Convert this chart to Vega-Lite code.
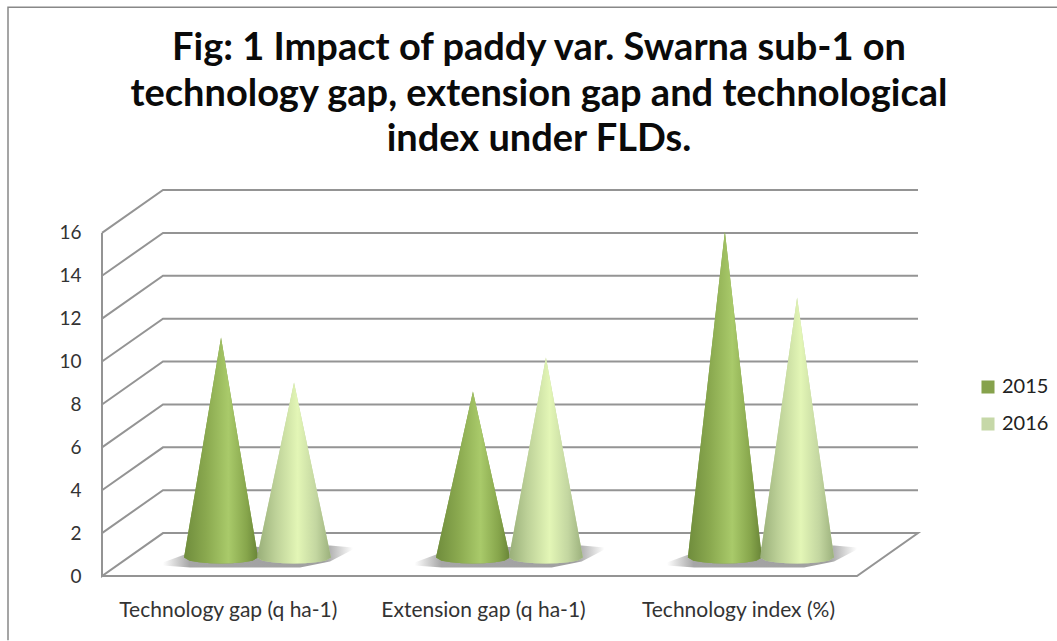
{"$schema":"https://vega.github.io/schema/vega-lite/v6.json","width":816,"height":386,"autosize":{"type":"none"},"padding":{"left":102,"top":190,"right":139,"bottom":65},"background":"white","config":{"view":{"stroke":null}},"title":{"text":["Fig: 1 Impact of paddy var. Swarna sub-1 on","technology gap, extension gap and technological","index under FLDs."],"font":"Lato","fontWeight":"bold","fontSize":38,"lineHeight":45.5,"color":"#0a0a0a","anchor":"middle","dx":29,"limit":1000,"offset":-155},"datasets":{"grid":[{"k":16,"o":1,"x":0,"y":16},{"k":16,"o":2,"x":0.2424,"y":18},{"k":16,"o":3,"x":3.2424,"y":18},{"k":14,"o":1,"x":0,"y":14},{"k":14,"o":2,"x":0.2424,"y":16},{"k":14,"o":3,"x":3.2424,"y":16},{"k":12,"o":1,"x":0,"y":12},{"k":12,"o":2,"x":0.2424,"y":14},{"k":12,"o":3,"x":3.2424,"y":14},{"k":10,"o":1,"x":0,"y":10},{"k":10,"o":2,"x":0.2424,"y":12},{"k":10,"o":3,"x":3.2424,"y":12},{"k":8,"o":1,"x":0,"y":8},{"k":8,"o":2,"x":0.2424,"y":10},{"k":8,"o":3,"x":3.2424,"y":10},{"k":6,"o":1,"x":0,"y":6},{"k":6,"o":2,"x":0.2424,"y":8},{"k":6,"o":3,"x":3.2424,"y":8},{"k":4,"o":1,"x":0,"y":4},{"k":4,"o":2,"x":0.2424,"y":6},{"k":4,"o":3,"x":3.2424,"y":6},{"k":2,"o":1,"x":0,"y":2},{"k":2,"o":2,"x":0.2424,"y":4},{"k":2,"o":3,"x":3.2424,"y":4},{"k":0,"o":1,"x":0,"y":16},{"k":0,"o":2,"x":0,"y":0},{"k":0,"o":3,"x":0.2424,"y":2},{"k":0,"o":4,"x":3.2424,"y":2},{"k":0,"o":5,"x":3,"y":0},{"k":0,"o":6,"x":0,"y":0}],"border":[{"o":1,"x":3.795,"y":26.52},{"o":2,"x":-0.3735,"y":26.52},{"o":3,"x":-0.3735,"y":-3.0}],"shadow":[{"g":1,"x":0.242,"t":0.63,"b":0.49},{"g":1,"x":0.35,"t":1.096,"b":0.396},{"g":1,"x":0.548,"t":1.329,"b":0.396},{"g":1,"x":0.787,"t":1.423,"b":0.396},{"g":1,"x":0.906,"t":1.423,"b":0.676},{"g":1,"x":0.997,"t":1.329,"b":1.236},{"g":2,"x":1.242,"t":0.63,"b":0.49},{"g":2,"x":1.35,"t":1.096,"b":0.396},{"g":2,"x":1.548,"t":1.329,"b":0.396},{"g":2,"x":1.787,"t":1.423,"b":0.396},{"g":2,"x":1.906,"t":1.423,"b":0.676},{"g":2,"x":1.997,"t":1.329,"b":1.236},{"g":3,"x":2.245,"t":0.63,"b":0.49},{"g":3,"x":2.353,"t":1.096,"b":0.396},{"g":3,"x":2.551,"t":1.329,"b":0.396},{"g":3,"x":2.79,"t":1.423,"b":0.396},{"g":3,"x":2.909,"t":1.423,"b":0.676},{"g":3,"x":3.0,"t":1.329,"b":1.236}],"cones":[{"cone":"A","year":"2015","x":0.326,"t":0.863,"b":0.863},{"cone":"A","year":"2015","x":0.348,"t":2.402,"b":0.716},{"cone":"A","year":"2015","x":0.385,"t":4.967,"b":0.639},{"cone":"A","year":"2015","x":0.429,"t":8.046,"b":0.596},{"cone":"A","year":"2015","x":0.473,"t":11.124,"b":0.583},{"cone":"A","year":"2015","x":0.517,"t":8.046,"b":0.596},{"cone":"A","year":"2015","x":0.561,"t":4.967,"b":0.639},{"cone":"A","year":"2015","x":0.598,"t":2.402,"b":0.716},{"cone":"A","year":"2015","x":0.62,"t":0.863,"b":0.863},{"cone":"B","year":"2016","x":0.616,"t":0.863,"b":0.863},{"cone":"B","year":"2016","x":0.638,"t":2.087,"b":0.716},{"cone":"B","year":"2016","x":0.675,"t":4.128,"b":0.639},{"cone":"B","year":"2016","x":0.719,"t":6.576,"b":0.596},{"cone":"B","year":"2016","x":0.763,"t":9.025,"b":0.583},{"cone":"B","year":"2016","x":0.807,"t":6.576,"b":0.596},{"cone":"B","year":"2016","x":0.851,"t":4.128,"b":0.639},{"cone":"B","year":"2016","x":0.888,"t":2.087,"b":0.716},{"cone":"B","year":"2016","x":0.91,"t":0.863,"b":0.863},{"cone":"C","year":"2015","x":1.327,"t":0.863,"b":0.863},{"cone":"C","year":"2015","x":1.349,"t":2.024,"b":0.716},{"cone":"C","year":"2015","x":1.386,"t":3.96,"b":0.639},{"cone":"C","year":"2015","x":1.43,"t":6.282,"b":0.596},{"cone":"C","year":"2015","x":1.474,"t":8.605,"b":0.583},{"cone":"C","year":"2015","x":1.518,"t":6.282,"b":0.596},{"cone":"C","year":"2015","x":1.562,"t":3.96,"b":0.639},{"cone":"C","year":"2015","x":1.599,"t":2.024,"b":0.716},{"cone":"C","year":"2015","x":1.621,"t":0.863,"b":0.863},{"cone":"D","year":"2016","x":1.617,"t":0.863,"b":0.863},{"cone":"D","year":"2016","x":1.639,"t":2.262,"b":0.716},{"cone":"D","year":"2016","x":1.676,"t":4.594,"b":0.639},{"cone":"D","year":"2016","x":1.72,"t":7.393,"b":0.596},{"cone":"D","year":"2016","x":1.764,"t":10.191,"b":0.583},{"cone":"D","year":"2016","x":1.808,"t":7.393,"b":0.596},{"cone":"D","year":"2016","x":1.852,"t":4.594,"b":0.639},{"cone":"D","year":"2016","x":1.889,"t":2.262,"b":0.716},{"cone":"D","year":"2016","x":1.911,"t":0.863,"b":0.863},{"cone":"E","year":"2015","x":2.328,"t":0.863,"b":0.863},{"cone":"E","year":"2015","x":2.35,"t":3.144,"b":0.716},{"cone":"E","year":"2015","x":2.387,"t":6.945,"b":0.639},{"cone":"E","year":"2015","x":2.431,"t":11.507,"b":0.596},{"cone":"E","year":"2015","x":2.475,"t":16.068,"b":0.583},{"cone":"E","year":"2015","x":2.519,"t":11.507,"b":0.596},{"cone":"E","year":"2015","x":2.563,"t":6.945,"b":0.639},{"cone":"E","year":"2015","x":2.6,"t":3.144,"b":0.716},{"cone":"E","year":"2015","x":2.622,"t":0.863,"b":0.863},{"cone":"F","year":"2016","x":2.615,"t":0.863,"b":0.863},{"cone":"F","year":"2016","x":2.637,"t":2.682,"b":0.716},{"cone":"F","year":"2016","x":2.674,"t":5.714,"b":0.639},{"cone":"F","year":"2016","x":2.718,"t":9.352,"b":0.596},{"cone":"F","year":"2016","x":2.762,"t":12.99,"b":0.583},{"cone":"F","year":"2016","x":2.806,"t":9.352,"b":0.596},{"cone":"F","year":"2016","x":2.85,"t":5.714,"b":0.639},{"cone":"F","year":"2016","x":2.887,"t":2.682,"b":0.716},{"cone":"F","year":"2016","x":2.909,"t":0.863,"b":0.863}]},"layer":[{"data":{"name":"grid"},"mark":{"type":"line","color":"#949494","strokeWidth":2,"clip":false},"encoding":{"x":{"field":"x","type":"quantitative","scale":{"domain":[0,3.2424],"nice":false,"zero":false},"axis":{"title":null,"values":[0.5,1.514,2.527],"labelExpr":"datum.value<1?'Technology gap (q ha-1)':datum.value<2?'Extension gap (q ha-1)':'Technology index (%)'","grid":false,"domain":false,"ticks":false,"labelPadding":23,"labelFont":"Lato","labelFontSize":21,"labelLimit":400,"labelColor":"#333333","labelOverlap":false,"labelFlush":false,"labelBound":false,"labelAngle":0}},"y":{"field":"y","type":"quantitative","scale":{"domain":[0,18],"nice":false,"zero":false},"axis":{"title":null,"values":[0,2,4,6,8,10,12,14,16],"grid":false,"domain":false,"ticks":false,"labelPadding":21,"labelFont":"Lato","labelFontSize":19,"labelColor":"#333333"}},"detail":{"field":"k"},"order":{"field":"o"}}},{"data":{"name":"border"},"mark":{"type":"line","color":"#888888","strokeWidth":1.5,"clip":false},"encoding":{"x":{"field":"x","type":"quantitative"},"y":{"field":"y","type":"quantitative"},"order":{"field":"o"}}},{"data":{"name":"shadow"},"mark":{"type":"area","clip":false,"color":{"gradient":"linear","x1":0,"x2":1,"y1":0,"y2":0,"stops":[{"offset":0,"color":"#ffffff"},{"offset":0.14,"color":"#a6a6a6"},{"offset":0.85,"color":"#a0a0a0"},{"offset":1,"color":"#ffffff"}]}},"encoding":{"x":{"field":"x","type":"quantitative"},"y":{"field":"t","type":"quantitative"},"y2":{"field":"b"},"detail":{"field":"g"}}},{"data":{"name":"cones"},"mark":{"type":"area","clip":false},"encoding":{"x":{"field":"x","type":"quantitative"},"y":{"field":"t","type":"quantitative"},"y2":{"field":"b"},"detail":{"field":"cone"},"color":{"field":"year","type":"nominal","scale":{"domain":["2015","2016"],"range":["#86a24c","#c6d8a8"]},"legend":{"title":null,"orient":"none","legendX":876,"legendY":187,"symbolType":"square","symbolSize":170,"symbolStrokeWidth":0,"labelFont":"Lato","labelFontSize":20,"labelColor":"#222222","labelOffset":4,"rowPadding":17,"clipHeight":20}}}},{"data":{"name":"cones"},"transform":[{"filter":"datum.year==='2015'"}],"mark":{"type":"area","clip":false,"color":{"gradient":"linear","x1":0,"x2":1,"y1":0,"y2":0,"stops":[{"offset":0,"color":"#6f8c3c"},{"offset":0.3,"color":"#8aa94f"},{"offset":0.6,"color":"#a9ca6a"},{"offset":0.85,"color":"#86a54b"},{"offset":1,"color":"#688437"}]}},"encoding":{"x":{"field":"x","type":"quantitative"},"y":{"field":"t","type":"quantitative"},"y2":{"field":"b"},"detail":{"field":"cone"}}},{"data":{"name":"cones"},"transform":[{"filter":"datum.year==='2016'"}],"mark":{"type":"area","clip":false,"color":{"gradient":"linear","x1":0,"x2":1,"y1":0,"y2":0,"stops":[{"offset":0,"color":"#98ae78"},{"offset":0.25,"color":"#bdd198"},{"offset":0.55,"color":"#e3f6b6"},{"offset":0.8,"color":"#c3d6a0"},{"offset":1,"color":"#9bb07c"}]}},"encoding":{"x":{"field":"x","type":"quantitative"},"y":{"field":"t","type":"quantitative"},"y2":{"field":"b"},"detail":{"field":"cone"}}}]}
